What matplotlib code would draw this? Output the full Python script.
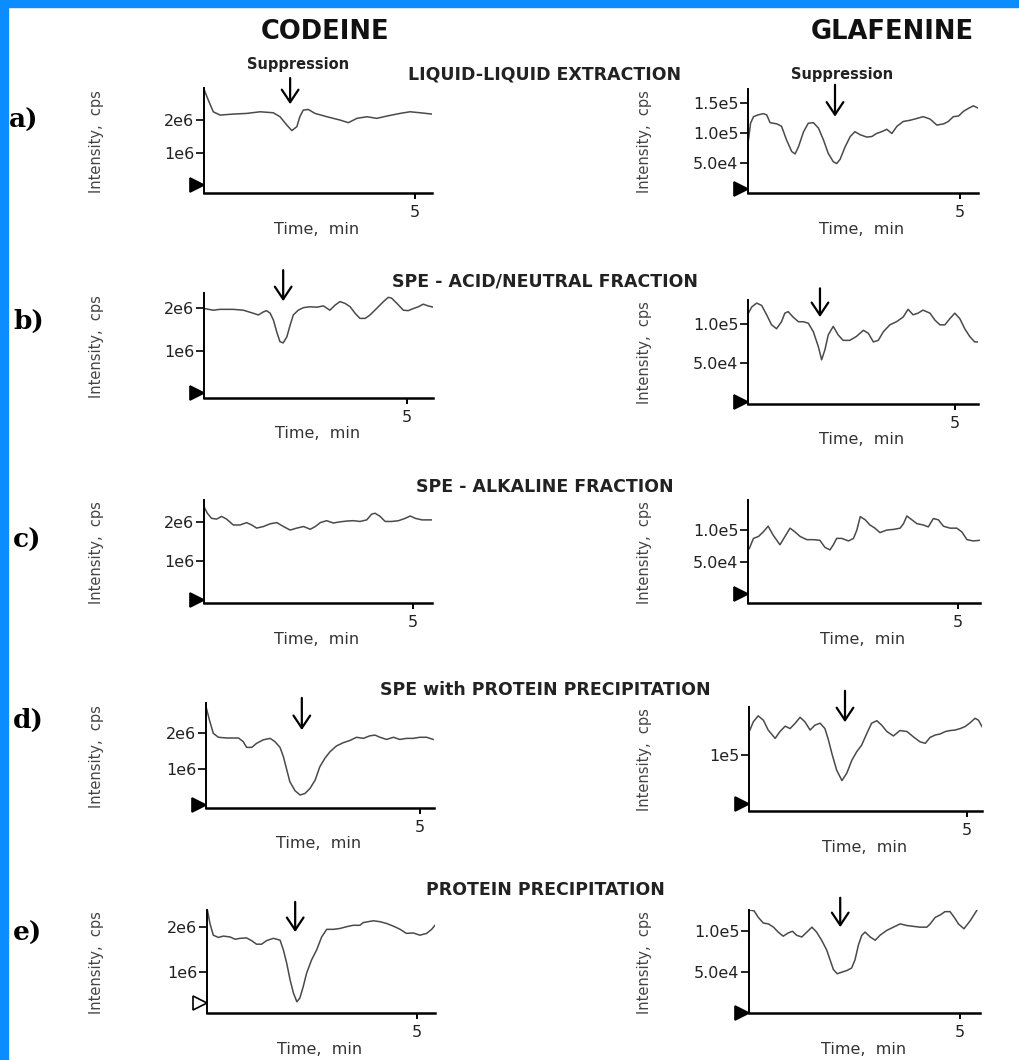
import numpy as np
import matplotlib
matplotlib.use('Agg')
import matplotlib.pyplot as plt
from matplotlib.patches import Rectangle

W, H = 1020, 1060

# ---- traces (time in min, intensity: codeine in 1e6 cps, glafenine in 1e5 cps) ----
ca_t = [0, 0.10, 0.22, 0.38, 0.69, 1.01, 1.33, 1.64, 1.80, 1.96, 2.08, 2.20, 2.27, 2.35, 2.47, 2.63,
        2.91, 3.22, 3.42, 3.62, 3.86, 4.09, 4.33, 4.64, 4.88, 5.12, 5.40]
ca_y = [2.93, 2.61, 2.25, 2.15, 2.18, 2.20, 2.25, 2.22, 2.10, 1.85, 1.68, 1.80, 2.10, 2.30, 2.32, 2.20,
        2.10, 2.00, 1.92, 2.05, 2.10, 2.05, 2.12, 2.20, 2.25, 2.22, 2.18]

ga_t = [0.01, 0.06, 0.13, 0.24, 0.36, 0.44, 0.52, 0.68, 0.79, 0.91, 1.03, 1.11, 1.19, 1.31, 1.42, 1.54,
        1.66, 1.78, 1.89, 2.01, 2.09, 2.17, 2.29, 2.41, 2.52, 2.64, 2.80, 2.92, 3.03, 3.15, 3.27, 3.39,
        3.51, 3.66, 3.82, 3.98, 4.13, 4.29, 4.45, 4.61, 4.72, 4.84, 4.96, 5.08, 5.20, 5.31, 5.43]
ga_y = [0.88, 1.16, 1.27, 1.30, 1.32, 1.30, 1.17, 1.15, 1.11, 0.88, 0.69, 0.65, 0.77, 1.02, 1.16, 1.17,
        1.08, 0.88, 0.66, 0.52, 0.49, 0.56, 0.77, 0.94, 1.02, 0.97, 0.93, 0.94, 0.99, 1.02, 1.06, 0.99,
        1.11, 1.19, 1.21, 1.24, 1.27, 1.23, 1.13, 1.15, 1.19, 1.27, 1.28, 1.36, 1.41, 1.45, 1.41]

cb_t = [0, 0.23, 0.39, 0.72, 0.97, 1.21, 1.34, 1.46, 1.54, 1.63, 1.71, 1.79, 1.87, 1.95, 2.04, 2.12,
        2.20, 2.32, 2.45, 2.61, 2.78, 2.94, 3.10, 3.23, 3.35, 3.47, 3.60, 3.72, 3.84, 3.97, 4.09, 4.25,
        4.42, 4.54, 4.62, 4.75, 4.91, 5.03, 5.16, 5.28, 5.40, 5.52, 5.65]
cb_y = [1.99, 1.95, 1.97, 1.97, 1.95, 1.88, 1.84, 1.91, 1.94, 1.88, 1.72, 1.45, 1.22, 1.19, 1.33, 1.60,
        1.84, 1.95, 2.01, 2.03, 2.02, 2.05, 1.95, 2.07, 2.15, 2.11, 2.03, 1.88, 1.76, 1.76, 1.84, 1.99,
        2.15, 2.25, 2.23, 2.11, 1.95, 1.94, 1.99, 2.03, 2.09, 2.05, 2.02]

gb_t = [0.01, 0.09, 0.21, 0.33, 0.45, 0.57, 0.69, 0.81, 0.89, 0.97, 1.09, 1.22, 1.34, 1.46, 1.58, 1.70,
        1.78, 1.86, 1.94, 2.06, 2.18, 2.30, 2.46, 2.62, 2.79, 2.91, 3.03, 3.15, 3.27, 3.43, 3.59, 3.75,
        3.87, 3.99, 4.11, 4.23, 4.40, 4.52, 4.64, 4.76, 4.88, 5.00, 5.12, 5.24, 5.36, 5.48, 5.56]
gb_y = [1.14, 1.22, 1.27, 1.24, 1.12, 0.99, 0.94, 1.03, 1.14, 1.16, 1.09, 1.03, 1.03, 1.01, 0.90, 0.71,
        0.54, 0.67, 0.86, 0.97, 0.86, 0.79, 0.79, 0.84, 0.92, 0.88, 0.77, 0.79, 0.90, 0.99, 1.03, 1.09,
        1.19, 1.12, 1.14, 1.18, 1.14, 1.05, 0.99, 0.99, 1.07, 1.14, 1.07, 0.94, 0.84, 0.77, 0.77]

cc_t = [0, 0.08, 0.18, 0.30, 0.42, 0.54, 0.70, 0.86, 1.02, 1.14, 1.26, 1.42, 1.58, 1.74, 1.90, 2.06,
        2.22, 2.38, 2.54, 2.66, 2.78, 2.93, 3.09, 3.25, 3.41, 3.57, 3.73, 3.89, 4.01, 4.09, 4.21, 4.33,
        4.49, 4.65, 4.81, 4.93, 5.05, 5.21, 5.33, 5.45]
cc_y = [2.39, 2.22, 2.09, 2.07, 2.14, 2.07, 1.92, 1.92, 1.98, 1.92, 1.84, 1.88, 1.95, 1.98, 1.88, 1.79,
        1.84, 1.88, 1.81, 1.88, 1.98, 2.03, 1.97, 2.00, 2.02, 2.03, 2.01, 2.05, 2.20, 2.22, 2.14, 2.01,
        2.01, 2.03, 2.09, 2.15, 2.09, 2.05, 2.05, 2.05]

gc_t = [0.03, 0.13, 0.25, 0.36, 0.48, 0.60, 0.76, 0.88, 1.00, 1.12, 1.24, 1.40, 1.56, 1.71, 1.83, 1.95,
        2.03, 2.11, 2.23, 2.39, 2.51, 2.59, 2.67, 2.79, 2.90, 3.02, 3.14, 3.30, 3.46, 3.62, 3.70, 3.78,
        3.90, 4.02, 4.17, 4.29, 4.41, 4.53, 4.65, 4.81, 4.97, 5.09, 5.21, 5.36, 5.52]
gc_y = [0.71, 0.87, 0.90, 0.97, 1.06, 0.92, 0.77, 0.90, 1.03, 0.97, 0.90, 0.85, 0.85, 0.84, 0.73, 0.69,
        0.77, 0.87, 0.87, 0.83, 0.87, 1.00, 1.21, 1.16, 1.08, 1.03, 0.96, 1.00, 1.01, 1.03, 1.10, 1.22,
        1.16, 1.10, 1.08, 1.05, 1.18, 1.16, 1.06, 1.03, 1.03, 0.97, 0.85, 0.83, 0.84]

cd_t = [0, 0.08, 0.17, 0.29, 0.48, 0.76, 0.87, 0.95, 1.07, 1.18, 1.34, 1.50, 1.61, 1.73, 1.81, 1.89,
        1.96, 2.08, 2.20, 2.31, 2.43, 2.55, 2.66, 2.78, 2.90, 3.05, 3.21, 3.36, 3.52, 3.68, 3.83, 3.95,
        4.07, 4.22, 4.38, 4.53, 4.69, 4.84, 5.00, 5.16, 5.31]
cd_y = [2.73, 2.36, 1.99, 1.88, 1.86, 1.86, 1.76, 1.60, 1.60, 1.71, 1.81, 1.85, 1.76, 1.60, 1.34, 0.97,
        0.65, 0.40, 0.28, 0.32, 0.46, 0.69, 1.06, 1.30, 1.48, 1.64, 1.73, 1.79, 1.88, 1.85, 1.92, 1.94,
        1.88, 1.82, 1.88, 1.82, 1.85, 1.85, 1.88, 1.88, 1.82]

gd_t = [0.02, 0.10, 0.21, 0.33, 0.44, 0.60, 0.71, 0.83, 0.94, 1.06, 1.17, 1.28, 1.40, 1.51, 1.63, 1.74,
        1.82, 1.90, 2.01, 2.13, 2.24, 2.36, 2.47, 2.58, 2.70, 2.81, 2.93, 3.04, 3.16, 3.31, 3.46, 3.62,
        3.77, 3.92, 4.04, 4.15, 4.27, 4.38, 4.50, 4.61, 4.72, 4.84, 4.95, 5.07, 5.18, 5.26, 5.34]
gd_y = [1.51, 1.68, 1.80, 1.71, 1.51, 1.34, 1.48, 1.59, 1.54, 1.65, 1.77, 1.68, 1.51, 1.61, 1.65, 1.54,
        1.31, 1.03, 0.69, 0.48, 0.63, 0.90, 1.07, 1.20, 1.44, 1.65, 1.70, 1.61, 1.48, 1.39, 1.50, 1.48,
        1.37, 1.27, 1.24, 1.36, 1.41, 1.43, 1.48, 1.50, 1.51, 1.54, 1.58, 1.66, 1.75, 1.71, 1.58]

ce_t = [0.01, 0.07, 0.15, 0.27, 0.39, 0.55, 0.67, 0.79, 0.94, 1.06, 1.18, 1.30, 1.42, 1.58, 1.74, 1.82,
        1.90, 1.98, 2.06, 2.14, 2.21, 2.29, 2.37, 2.49, 2.61, 2.73, 2.85, 3.01, 3.17, 3.33, 3.48, 3.64,
        3.72, 3.84, 3.96, 4.12, 4.28, 4.44, 4.60, 4.75, 4.91, 5.07, 5.23, 5.35, 5.43]
ce_y = [2.38, 2.08, 1.82, 1.77, 1.80, 1.78, 1.73, 1.75, 1.76, 1.70, 1.62, 1.62, 1.70, 1.75, 1.71, 1.49,
        1.19, 0.82, 0.53, 0.34, 0.42, 0.67, 0.97, 1.27, 1.49, 1.78, 1.95, 1.95, 1.97, 2.01, 2.04, 2.04,
        2.10, 2.12, 2.14, 2.12, 2.08, 2.02, 1.95, 1.86, 1.87, 1.82, 1.86, 1.95, 2.04]

ge_t = [0.01, 0.12, 0.22, 0.34, 0.46, 0.58, 0.69, 0.81, 0.93, 1.03, 1.13, 1.25, 1.37, 1.49, 1.60, 1.72,
        1.84, 1.92, 2.00, 2.09, 2.20, 2.32, 2.43, 2.51, 2.59, 2.67, 2.75, 2.87, 2.99, 3.10, 3.26, 3.42,
        3.58, 3.74, 3.89, 4.05, 4.21, 4.29, 4.41, 4.53, 4.64, 4.76, 4.86, 4.96, 5.09, 5.24, 5.40]
ge_y = [1.26, 1.25, 1.17, 1.10, 1.09, 1.05, 0.99, 0.94, 0.98, 1.00, 0.95, 0.93, 0.99, 1.05, 0.99, 0.89,
        0.77, 0.65, 0.53, 0.48, 0.50, 0.52, 0.55, 0.65, 0.83, 0.95, 0.99, 0.93, 0.89, 0.95, 1.01, 1.05,
        1.09, 1.07, 1.06, 1.05, 1.05, 1.09, 1.17, 1.20, 1.24, 1.24, 1.17, 1.09, 1.03, 1.13, 1.26]

codeine_ticks = [1, 2]
codeine_ticklabels = ['1e6', '2e6']
glaf_ticks_3 = [0.5, 1.0, 1.5]
glaf_ticklabels_3 = ['5.0e4', '1.0e5', '1.5e5']
glaf_ticks_2 = [0.5, 1.0]
glaf_ticklabels_2 = ['5.0e4', '1.0e5']
glaf_ticks_d = [1.0]
glaf_ticklabels_d = ['1e5']

row_labels = ['a)', 'b)', 'c)', 'd)', 'e)']
row_titles = ['LIQUID-LIQUID EXTRACTION', 'SPE - ACID/NEUTRAL FRACTION', 'SPE - ALKALINE FRACTION',
              'SPE with PROTEIN PRECIPITATION', 'PROTEIN PRECIPITATION']

# arrows: (time, y_top, y_tip) or None
arrows = [(2.04, 3.27, 2.48), (2.05, 1.80, 1.27),
          (1.95, 2.88, 2.16), (1.74, 1.46, 1.09),
          None, None,
          (2.24, 2.97, 2.08), (2.20, 2.31, 1.67),
          (2.10, 2.56, 1.89), (2.16, 1.41, 1.05)]

# ---- layout (pixels): trace, box (left, right, top, bottom), xmax, ylim, marker y, ticks ----
panels = [
    (ca_t, ca_y, (204, 432, 88, 193), 5.40, (-0.21, 2.97), 0.03, codeine_ticks, codeine_ticklabels),
    (ga_t, ga_y, (748, 978, 89, 193), 5.42, (0.0, 1.73), 0.07, glaf_ticks_3, glaf_ticklabels_3),
    (cb_t, cb_y, (204, 433, 293, 398), 5.64, (-0.09, 2.35), 0.02, codeine_ticks, codeine_ticklabels),
    (gb_t, gb_y, (748, 978, 300, 404), 5.56, (-0.03, 1.31), 0.0, glaf_ticks_2, glaf_ticklabels_2),
    (cc_t, cc_y, (204, 432, 500, 603), 5.45, (-0.08, 2.56), 0.0, codeine_ticks, codeine_ticklabels),
    (gc_t, gc_y, (748, 980, 500, 603), 5.52, (-0.14, 1.47), 0.0, glaf_ticks_2, glaf_ticklabels_2),
    (cd_t, cd_y, (206, 434, 703, 808), 5.33, (-0.08, 2.83), 0.0, codeine_ticks, codeine_ticklabels),
    (gd_t, gd_y, (749, 982, 707, 811), 5.34, (-0.14, 1.98), 0.0, glaf_ticks_d, glaf_ticklabels_d),
    (ce_t, ce_y, (207, 435, 910, 1013), 5.43, (0.09, 2.38), 0.31, codeine_ticks, codeine_ticklabels),
    (ge_t, ge_y, (749, 980, 910, 1013), 5.47, (0.0, 1.26), 0.0, glaf_ticks_2, glaf_ticklabels_2),
]


def fx(px):
    return px / W


def fy(py):
    return 1 - py / H


fig = plt.figure(figsize=(W / 100, H / 100), dpi=100)
fig.patch.set_facecolor('white')

# blue frame
blue = '#0b8cff'
fig.patches.append(Rectangle((0, 0), fx(8), 1, transform=fig.transFigure, color=blue, zorder=0))
fig.patches.append(Rectangle((0, fy(7)), 1, 1 - fy(7), transform=fig.transFigure, color=blue, zorder=0))

sans = 'DejaVu Sans'

for i, (t, y, box, xmax, ylim, my, ticks, ticklabels) in enumerate(panels):
    l, r, top, bot = box
    ax = fig.add_axes([fx(l), fy(bot), fx(r) - fx(l), fy(top) - fy(bot)])
    ax.plot(t, y, color='#4a4a4a', lw=1.1)
    ax.set_xlim(0, xmax)
    ax.set_ylim(*ylim)
    for s in ['top', 'right']:
        ax.spines[s].set_visible(False)
    ax.spines['left'].set_linewidth(1.4)
    ax.spines['bottom'].set_linewidth(1.8)
    ax.set_xticks([5])
    ax.set_xticklabels(['5'])
    ax.set_yticks(ticks)
    ax.set_yticklabels(ticklabels)
    ax.tick_params(axis='y', direction='out', length=5.5, width=1.2, pad=1.5, labelsize=11.5,
                   labelcolor='#222222')
    ax.tick_params(axis='x', direction='out', length=4.5, width=1.4, pad=4, labelsize=11.5,
                   labelcolor='#222222')
    for lab in ax.get_xticklabels() + ax.get_yticklabels():
        lab.set_fontfamily(sans)

    # start-of-run marker
    filled = i != 8
    ax.plot([0], [my], marker='>', markersize=10, color='black',
            markerfacecolor='black' if filled else 'white', markeredgewidth=1.2,
            clip_on=False, transform=ax.transData + matplotlib.transforms.ScaledTranslation(
                -7 / 100, 0, fig.dpi_scale_trans), zorder=5)

    # axis labels
    cx = (l + r) / 2 - 1
    fig.text(fx(cx), fy(bot + 36), 'Time,  min', ha='center', va='center', fontsize=11.5,
             family=sans, color='#333333')
    ylx = 97 if i % 2 == 0 else 645
    fig.text(fx(ylx), fy((top + bot) / 2 + 1), 'Intensity,  cps', rotation=90, ha='center',
             va='center', fontsize=10.5, family=sans, color='#444444')

    if arrows[i] is not None:
        at, ay0, ay1 = arrows[i]
        ax.annotate('', xy=(at, ay1), xytext=(at, ay0), annotation_clip=False,
                    arrowprops=dict(arrowstyle='->,head_length=0.9,head_width=0.6',
                                    color='black', lw=1.6, shrinkA=0, shrinkB=0))

# headings
fig.text(fx(325), fy(32), 'CODEINE', ha='center', va='center', fontsize=18.5, fontweight='bold',
         family=sans, color='#111111')
fig.text(fx(892), fy(32), 'GLAFENINE', ha='center', va='center', fontsize=18.5, fontweight='bold',
         family=sans, color='#111111')
fig.text(fx(298), fy(64), 'Suppression', ha='center', va='center', fontsize=10.5,
         fontweight='bold', family=sans, color='#222222')
fig.text(fx(842), fy(75), 'Suppression', ha='center', va='center', fontsize=10.5,
         fontweight='bold', family=sans, color='#222222')

title_y = [74, 282, 487, 690, 890]
for ty, tt in zip(title_y, row_titles):
    fig.text(fx(545), fy(ty), tt, ha='center', va='center', fontsize=12.5, fontweight='bold',
             family=sans, color='#222222')

label_pos = [(9, 120), (13, 321), (13, 540), (13, 720), (13, 933)]
for (lx, ly), lt in zip(label_pos, row_labels):
    fig.text(fx(lx), fy(ly), lt, ha='left', va='center', fontsize=19, fontweight='bold',
             family='DejaVu Serif', color='black')

fig.savefig('out.png', dpi=100, facecolor='white')
